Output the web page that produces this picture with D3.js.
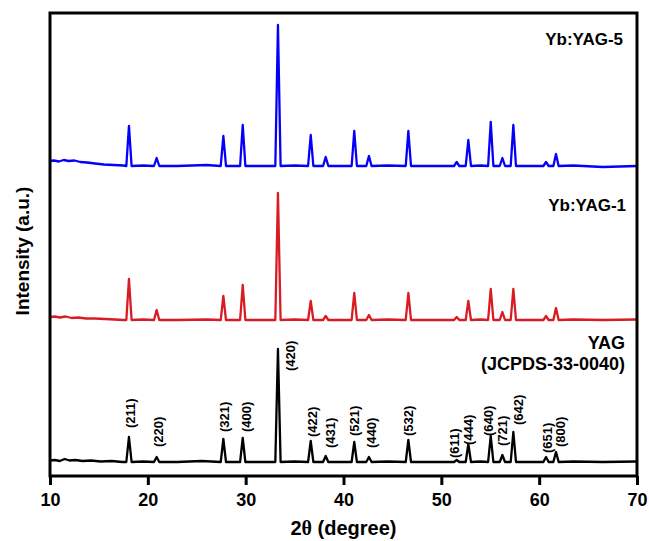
<!DOCTYPE html>
<html lang="en">
    <head>
        <meta charset="utf-8">
        <title>XRD patterns of YAG and Yb:YAG</title>
        <script type="text/javascript" src="https://cdn.jsdelivr.net/npm/d3@7"></script>
        <style>
            body { margin: 0; background: #fff; }
            text { font-family: "Liberation Sans", Arial, sans-serif; font-weight: bold; }
        </style>
    </head>
    <body>
        <script type="text/javascript">
            // peak positions (2theta) and hkl of the YAG reflections
            var peakPos = [18.07, 20.9, 27.72, 29.7, 33.3, 36.65, 38.18, 41.1, 42.6, 46.63, 51.57, 52.76, 55.05, 56.24, 57.36, 60.7, 61.72];
            var hkl = ["(211)", "(220)", "(321)", "(400)", "(420)", "(422)", "(431)", "(521)", "(440)", "(532)", "(611)", "(444)", "(640)", "(721)", "(642)", "(651)", "(800)"];

            // peak heights above background (a.u.)
            var yagPeaks = [25, 5, 23, 24, 113, 21, 6, 20, 5, 22, 2, 18, 26, 7, 30, 5, 10];
            var yb1Peaks = [41, 10, 24, 35, 127, 19, 4, 27, 5, 27, 3, 19, 31, 8, 31, 4, 12];
            var yb5Peaks = [40, 8, 30, 41, 141, 31, 9, 35, 10, 35, 4, 26, 44, 8, 41, 4, 12];

            // background points [2theta, a.u.]
            var yagBg = [[10, 1.5], [10.5, 2], [11, 1], [11.5, 3], [12, 1.5], [12.6, 2], [13.3, 1], [14.2, 1.5], [15.2, 0.5], [16.3, 1], [17.4, 0], [19.5, 0.5], [23, 0], [25.5, 1], [31.5, 0], [35, 0.5], [39.8, 0], [44.5, 0.5], [49, 0], [54, 0.5], [59, 0], [63.5, 0.5], [66.5, 0], [70, 0.5]];
            var yb1Bg = [[10, 3], [10.5, 3.5], [11, 2.5], [11.6, 3.5], [12.2, 2], [12.9, 2.5], [13.7, 1.5], [14.6, 1.5], [15.6, 1], [16.6, 0.5], [17.5, 0], [19.5, 0.5], [23, 0], [26, 0.5], [31.5, 0], [35, 0.5], [39.8, 0], [44.5, 0.5], [49, 0], [54, 0.5], [59, 0], [63.5, 0.5], [66.5, 0], [70, 0.5]];
            var yb5Bg = [[10, 5], [10.4, 5.5], [10.9, 4.5], [11.4, 6], [11.9, 5], [12.5, 5.5], [13.1, 4], [13.8, 3.5], [14.6, 2.5], [15.5, 1.5], [16.5, 1], [17.5, 0.5], [19.5, 0.5], [23, 0], [26, 1], [31.5, 0], [35, 0.5], [39.8, 0], [44.5, 0.5], [49, 0], [54, 0.5], [59, 0], [63.5, 0.5], [66.5, -1], [70, 0]];

            // vertical offset of each pattern in the stack
            var seriesNames = ["YAG", "Yb:YAG-1", "Yb:YAG-5"];
            var seriesOffsets = [14, 156, 310];
            var seriesColors = ["#000000", "#d81c23", "#0500fa"];

            // label anchors for the hkl text [2theta, a.u. above YAG background]
            var hklAnchors = [[18.18, 34], [21.04, 15], [27.79, 30], [30.03, 30], [34.53, 91], [36.78, 25], [38.62, 14], [41.07, 26], [42.81, 14], [46.59, 26], [51.3, 4], [52.73, 17], [54.77, 26], [56.2, 16], [57.84, 37], [60.87, 9], [62.13, 15]];

            var xTicks = [10, 20, 30, 40, 50, 60, 70];

            var w = 649;
            var h = 541;
            var padL = 50, padR = 637, padT = 13, padB = 476;
            var halfWidth = 0.27;

            var svg = d3.select("body")
                    .append("svg")
                    .attr("width", w)
                    .attr("height", h);

            var xScale = d3.scaleLinear()
                .domain([10, 70])
                .range([padL, padR]);
            var yScale = d3.scaleLinear()
                .domain([0, 463])
                .range([padB, padT]);

            function buildPattern(bg, peaks) {
                var pts = bg.slice();
                for (var i = 0; i < peakPos.length; i++) {
                    pts.push([peakPos[i] - halfWidth, 0]);
                    pts.push([peakPos[i], peaks[i]]);
                    pts.push([peakPos[i] + halfWidth, 0]);
                }
                pts.sort(function(a, b) { return a[0] - b[0]; });
                return pts;
            }

            var patterns = [buildPattern(yagBg, yagPeaks), buildPattern(yb1Bg, yb1Peaks), buildPattern(yb5Bg, yb5Peaks)];

            var plot = svg.append("g");
            plot.selectAll("path.pattern")
                .data(patterns)
                .enter()
                .append("path")
                .attr("class", "pattern")
                .attr("fill", "none")
                .attr("stroke", function(d, i) { return seriesColors[i]; })
                .attr("stroke-width", 2.3)
                .attr("stroke-linejoin", "round")
                .attr("d", function(d, i) {
                    var off = seriesOffsets[i];
                    return d3.line()
                        .x(function(p) { return xScale(p[0]); })
                        .y(function(p) { return yScale(p[1] + off); })(d);
                });

            // hkl labels on the YAG pattern
            plot.selectAll("text.hkl")
                .data(hklAnchors)
                .enter()
                .append("text")
                .attr("class", "hkl")
                .attr("font-size", "13px")
                .attr("fill", "#000")
                .attr("text-anchor", "start")
                .attr("dy", "0.35em")
                .attr("transform", function(d) {
                    return "translate(" + xScale(d[0]) + "," + yScale(d[1] + seriesOffsets[0]) + ") rotate(-90)";
                })
                .text(function(d, i) { return hkl[i]; });

            // series names
            svg.append("text")
                .text(seriesNames[2])
                .attr("font-size", "17px")
                .attr("text-anchor", "end")
                .attr("x", 623)
                .attr("y", 45);
            svg.append("text")
                .text(seriesNames[1])
                .attr("font-size", "17px")
                .attr("text-anchor", "end")
                .attr("x", 626)
                .attr("y", 211);
            svg.append("text")
                .text(seriesNames[0])
                .attr("font-size", "18px")
                .attr("text-anchor", "end")
                .attr("x", 625)
                .attr("y", 349);
            svg.append("text")
                .text("(JCPDS-33-0040)")
                .attr("font-size", "18px")
                .attr("text-anchor", "end")
                .attr("x", 625)
                .attr("y", 370);

            // x axis
            var xAxis = d3.axisBottom(xScale)
                .tickValues(xTicks)
                .tickSize(9)
                .tickSizeOuter(0)
                .tickPadding(8)
                .tickFormat(d3.format("d"));
            var gx = svg.append("g")
                .attr("transform", "translate(0," + padB + ")")
                .call(xAxis);
            gx.select(".domain").remove();
            gx.selectAll("line").attr("stroke", "#000").attr("stroke-width", 3);
            gx.selectAll("text")
                .attr("font-size", "18px")
                .attr("font-family", "'Liberation Sans', Arial, sans-serif")
                .attr("font-weight", "bold")
                .attr("fill", "#000");

            // frame
            svg.append("rect")
                .attr("x", padL)
                .attr("y", padT)
                .attr("width", padR - padL)
                .attr("height", padB - padT)
                .attr("fill", "none")
                .attr("stroke", "#000")
                .attr("stroke-width", 3);

            // axis titles
            var xt = svg.append("text")
                .attr("font-size", "20px")
                .attr("text-anchor", "middle")
                .attr("x", (padL + padR) / 2)
                .attr("y", 535);
            xt.append("tspan").text("2");
            xt.append("tspan").attr("font-family", "'Liberation Serif', 'DejaVu Serif', serif").text("\u03b8");
            xt.append("tspan").text(" (degree)");

            svg.append("text")
                .text("Intensity (a.u.)")
                .attr("font-size", "19px")
                .attr("text-anchor", "middle")
                .attr("dy", "0.35em")
                .attr("transform", "translate(22,251) rotate(-90)");
        </script>
    </body>
</html>
